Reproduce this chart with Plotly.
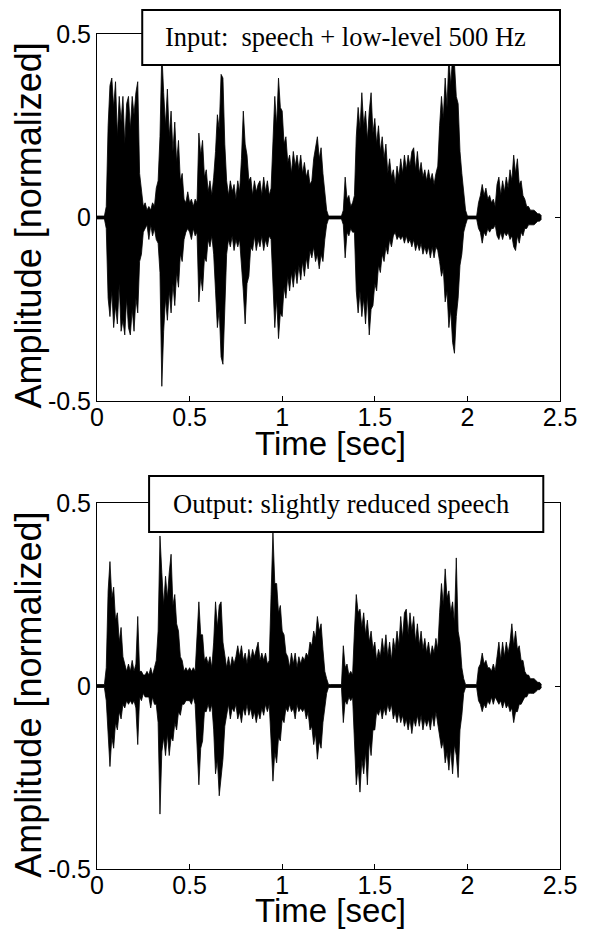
import plotly.graph_objects as go

# ---------------- data (waveform envelope, 10 ms steps) ----------------
sample_step = 0.01
n_samples = 241
time_sec = [round(i * sample_step, 2) for i in range(n_samples)]

input_upper = [
    0.004, 0.004, 0.004, 0.004, 0.004, 0.03, 0.25, 0.36, 0.38, 0.30,
    0.37, 0.22, 0.33, 0.26, 0.33, 0.20, 0.31, 0.33, 0.24, 0.33,
    0.28, 0.34, 0.37, 0.12, 0.08, 0.03, 0.04, 0.02, 0.03, 0.02,
    0.04, 0.03, 0.08, 0.10, 0.22, 0.45, 0.34, 0.25, 0.35, 0.22,
    0.29, 0.18, 0.26, 0.15, 0.21, 0.10, 0.12, 0.05, 0.04, 0.07,
    0.04, 0.05, 0.03, 0.05, 0.04, 0.23, 0.17, 0.21, 0.11, 0.13,
    0.07, 0.10, 0.06, 0.11, 0.18, 0.28, 0.24, 0.39, 0.38, 0.20,
    0.10, 0.06, 0.10, 0.07, 0.09, 0.05, 0.10, 0.07, 0.16, 0.29,
    0.20, 0.17, 0.10, 0.11, 0.06, 0.10, 0.07, 0.09, 0.10, 0.06,
    0.11, 0.07, 0.10, 0.06, 0.08, 0.20, 0.33, 0.25, 0.38, 0.30,
    0.29, 0.20, 0.22, 0.15, 0.17, 0.12, 0.18, 0.14, 0.17, 0.13,
    0.17, 0.12, 0.15, 0.11, 0.13, 0.09, 0.10, 0.16, 0.19, 0.22,
    0.16, 0.19, 0.12, 0.07, 0.02, 0.004, 0.004, 0.004, 0.004, 0.004,
    0.004, 0.004, 0.004, 0.02, 0.11, 0.05, 0.06, 0.03, 0.04, 0.06,
    0.22, 0.30, 0.24, 0.34, 0.25, 0.29, 0.21, 0.29, 0.34, 0.23,
    0.27, 0.20, 0.25, 0.18, 0.22, 0.16, 0.20, 0.12, 0.16, 0.11,
    0.13, 0.09, 0.14, 0.11, 0.16, 0.12, 0.17, 0.13, 0.17, 0.14,
    0.18, 0.19, 0.13, 0.18, 0.12, 0.15, 0.11, 0.13, 0.10, 0.13,
    0.10, 0.12, 0.09, 0.12, 0.14, 0.25, 0.33, 0.27, 0.38, 0.30,
    0.44, 0.36, 0.44, 0.42, 0.33, 0.31, 0.18, 0.12, 0.06, 0.02,
    0.004, 0.004, 0.004, 0.004, 0.004, 0.004, 0.04, 0.06, 0.09, 0.06,
    0.08, 0.05, 0.06, 0.04, 0.05, 0.03, 0.09, 0.11, 0.06, 0.10,
    0.07, 0.11, 0.08, 0.13, 0.10, 0.17, 0.12, 0.16, 0.09, 0.10,
    0.06, 0.05, 0.03, 0.03, 0.02, 0.02, 0.02, 0.015, 0.01, 0.01,
    0.004,
]

input_lower = [
    -0.004, -0.004, -0.004, -0.004, -0.004, -0.03, -0.22, -0.27, -0.20, -0.30,
    -0.24, -0.29, -0.18, -0.31, -0.28, -0.32, -0.22, -0.30, -0.32, -0.25,
    -0.31, -0.22, -0.26, -0.12, -0.10, -0.04, -0.03, -0.02, -0.06, -0.02,
    -0.05, -0.03, -0.06, -0.07, -0.15, -0.46, -0.31, -0.22, -0.28, -0.20,
    -0.26, -0.18, -0.24, -0.15, -0.19, -0.10, -0.12, -0.06, -0.04, -0.03,
    -0.04, -0.06, -0.03, -0.05, -0.04, -0.23, -0.16, -0.20, -0.11, -0.12,
    -0.06, -0.08, -0.05, -0.10, -0.20, -0.30, -0.25, -0.38, -0.40, -0.22,
    -0.10, -0.06, -0.08, -0.05, -0.09, -0.06, -0.08, -0.06, -0.12, -0.20,
    -0.29, -0.18, -0.16, -0.08, -0.09, -0.05, -0.09, -0.06, -0.08, -0.05,
    -0.09, -0.06, -0.08, -0.05, -0.06, -0.18, -0.30, -0.22, -0.33, -0.26,
    -0.27, -0.19, -0.22, -0.16, -0.20, -0.15, -0.19, -0.14, -0.18, -0.13,
    -0.17, -0.12, -0.16, -0.11, -0.14, -0.09, -0.11, -0.08, -0.12, -0.10,
    -0.14, -0.10, -0.12, -0.06, -0.02, -0.004, -0.004, -0.004, -0.004, -0.004,
    -0.004, -0.004, -0.004, -0.02, -0.11, -0.04, -0.05, -0.03, -0.04, -0.04,
    -0.20, -0.26, -0.20, -0.27, -0.22, -0.29, -0.21, -0.32, -0.25, -0.24,
    -0.18, -0.20, -0.13, -0.15, -0.10, -0.12, -0.08, -0.10, -0.06, -0.08,
    -0.05, -0.04, -0.06, -0.05, -0.06, -0.05, -0.07, -0.05, -0.07, -0.06,
    -0.08, -0.06, -0.09, -0.07, -0.09, -0.07, -0.10, -0.08, -0.10, -0.08,
    -0.11, -0.08, -0.11, -0.08, -0.09, -0.12, -0.16, -0.14, -0.23, -0.20,
    -0.30, -0.25, -0.34, -0.37, -0.27, -0.22, -0.13, -0.10, -0.04, -0.02,
    -0.004, -0.004, -0.004, -0.004, -0.004, -0.004, -0.03, -0.04, -0.07, -0.04,
    -0.05, -0.03, -0.04, -0.03, -0.03, -0.02, -0.05, -0.06, -0.04, -0.06,
    -0.04, -0.05, -0.04, -0.06, -0.05, -0.08, -0.09, -0.05, -0.07, -0.04,
    -0.05, -0.03, -0.03, -0.02, -0.02, -0.02, -0.02, -0.015, -0.01, -0.01,
    -0.004,
]

output_upper = [
    0.004, 0.004, 0.004, 0.004, 0.004, 0.05, 0.26, 0.34, 0.24, 0.27,
    0.18, 0.20, 0.12, 0.16, 0.08, 0.06, 0.04, 0.06, 0.04, 0.07,
    0.04, 0.06, 0.19, 0.04, 0.04, 0.03, 0.03, 0.04, 0.03, 0.05,
    0.03, 0.05, 0.07, 0.15, 0.41, 0.31, 0.22, 0.30, 0.24, 0.31,
    0.36, 0.22, 0.25, 0.17, 0.15, 0.08, 0.07, 0.04, 0.05, 0.04,
    0.05, 0.04, 0.05, 0.04, 0.15, 0.23, 0.14, 0.14, 0.07, 0.08,
    0.06, 0.08, 0.05, 0.12, 0.23, 0.16, 0.22, 0.23, 0.12, 0.09,
    0.05, 0.08, 0.05, 0.08, 0.06, 0.08, 0.11, 0.08, 0.11, 0.07,
    0.09, 0.06, 0.10, 0.07, 0.10, 0.08, 0.10, 0.12, 0.07, 0.09,
    0.07, 0.09, 0.06, 0.07, 0.25, 0.42, 0.28, 0.28, 0.20, 0.22,
    0.15, 0.14, 0.09, 0.08, 0.05, 0.09, 0.06, 0.09, 0.05, 0.08,
    0.06, 0.08, 0.07, 0.09, 0.08, 0.12, 0.11, 0.15, 0.13, 0.19,
    0.15, 0.17, 0.10, 0.04, 0.02, 0.004, 0.004, 0.004, 0.004, 0.004,
    0.004, 0.004, 0.004, 0.11, 0.05, 0.06, 0.03, 0.04, 0.03, 0.15,
    0.25, 0.20, 0.21, 0.16, 0.20, 0.14, 0.18, 0.12, 0.15, 0.10,
    0.12, 0.07, 0.10, 0.08, 0.13, 0.09, 0.14, 0.08, 0.12, 0.07,
    0.13, 0.10, 0.15, 0.11, 0.19, 0.13, 0.20, 0.21, 0.14, 0.20,
    0.15, 0.19, 0.12, 0.17, 0.11, 0.15, 0.10, 0.13, 0.09, 0.12,
    0.08, 0.11, 0.09, 0.13, 0.10, 0.20, 0.28, 0.22, 0.32, 0.24,
    0.26, 0.20, 0.23, 0.17, 0.35, 0.15, 0.12, 0.05, 0.02, 0.004,
    0.004, 0.004, 0.004, 0.004, 0.004, 0.004, 0.05, 0.06, 0.09, 0.06,
    0.07, 0.05, 0.05, 0.04, 0.06, 0.04, 0.08, 0.12, 0.07, 0.12,
    0.08, 0.12, 0.09, 0.12, 0.17, 0.11, 0.15, 0.10, 0.11, 0.07,
    0.07, 0.04, 0.03, 0.03, 0.02, 0.02, 0.02, 0.015, 0.01, 0.01,
    0.004,
]

output_lower = [
    -0.004, -0.004, -0.004, -0.004, -0.004, -0.04, -0.15, -0.22, -0.14, -0.17,
    -0.10, -0.12, -0.07, -0.09, -0.05, -0.06, -0.04, -0.05, -0.04, -0.05,
    -0.04, -0.06, -0.16, -0.03, -0.04, -0.02, -0.03, -0.03, -0.03, -0.06,
    -0.03, -0.05, -0.05, -0.10, -0.35, -0.18, -0.14, -0.19, -0.13, -0.19,
    -0.14, -0.15, -0.10, -0.12, -0.07, -0.08, -0.05, -0.05, -0.04, -0.04,
    -0.04, -0.05, -0.03, -0.05, -0.15, -0.27, -0.17, -0.15, -0.07, -0.07,
    -0.05, -0.07, -0.05, -0.12, -0.24, -0.20, -0.30, -0.25, -0.20, -0.11,
    -0.08, -0.05, -0.09, -0.06, -0.07, -0.05, -0.09, -0.07, -0.10, -0.06,
    -0.08, -0.05, -0.08, -0.06, -0.09, -0.07, -0.10, -0.07, -0.09, -0.06,
    -0.08, -0.05, -0.07, -0.05, -0.15, -0.26, -0.18, -0.21, -0.14, -0.15,
    -0.09, -0.10, -0.06, -0.07, -0.05, -0.07, -0.06, -0.09, -0.05, -0.07,
    -0.06, -0.07, -0.06, -0.09, -0.07, -0.12, -0.11, -0.16, -0.13, -0.20,
    -0.15, -0.17, -0.10, -0.05, -0.02, -0.004, -0.004, -0.004, -0.004, -0.004,
    -0.004, -0.004, -0.004, -0.10, -0.04, -0.05, -0.03, -0.04, -0.03, -0.15,
    -0.27, -0.22, -0.29, -0.20, -0.24, -0.18, -0.27, -0.15, -0.19, -0.12,
    -0.12, -0.07, -0.08, -0.06, -0.09, -0.06, -0.08, -0.05, -0.07, -0.05,
    -0.09, -0.07, -0.10, -0.07, -0.10, -0.08, -0.11, -0.09, -0.12, -0.09,
    -0.13, -0.09, -0.11, -0.08, -0.11, -0.08, -0.12, -0.09, -0.11, -0.09,
    -0.12, -0.08, -0.11, -0.07, -0.10, -0.14, -0.17, -0.15, -0.21, -0.18,
    -0.23, -0.17, -0.24, -0.16, -0.19, -0.25, -0.12, -0.08, -0.02, -0.004,
    -0.004, -0.004, -0.004, -0.004, -0.004, -0.004, -0.04, -0.05, -0.07, -0.05,
    -0.06, -0.04, -0.05, -0.03, -0.05, -0.03, -0.04, -0.05, -0.04, -0.06,
    -0.04, -0.06, -0.05, -0.07, -0.06, -0.10, -0.07, -0.07, -0.05, -0.05,
    -0.04, -0.03, -0.03, -0.02, -0.02, -0.02, -0.02, -0.015, -0.01, -0.01,
    -0.004,
]

x_tick_vals = [0, 0.5, 1, 1.5, 2, 2.5]
x_tick_text = ["0", "0.5", "1", "1.5", "2", "2.5"]
y_tick_vals = [-0.5, 0, 0.5]
y_tick_text = ["-0.5", "0", "0.5"]

input_label = "Input:\u00a0 speech + low-level 500 Hz"
output_label = "Output: slightly reduced speech"
x_title = "Time [sec]"
y_title = "Amplitude [normalized]"

for name, arr in [("input_upper", input_upper), ("input_lower", input_lower),
                  ("output_upper", output_upper), ("output_lower", output_lower)]:
    if len(arr) != n_samples:
        print("length mismatch", name, len(arr))

# ---------------- figure ----------------
fig = go.Figure()

def add_wave(upper, lower, xa, ya):
    fig.add_trace(go.Scatter(x=time_sec, y=upper, mode="lines",
                             line=dict(color="black", width=0.8),
                             xaxis=xa, yaxis=ya, showlegend=False, hoverinfo="skip"))
    fig.add_trace(go.Scatter(x=time_sec, y=lower, mode="lines",
                             line=dict(color="black", width=0.8),
                             fill="tonexty", fillcolor="black",
                             xaxis=xa, yaxis=ya, showlegend=False, hoverinfo="skip"))

add_wave(input_upper, input_lower, "x", "y")
add_wave(output_upper, output_lower, "x2", "y2")

tick_font = dict(family="Liberation Sans, Arial, sans-serif", size=25, color="black")
xtitle_font = dict(family="Liberation Sans, Arial, sans-serif", size=33, color="black")
ytitle_font = dict(family="Liberation Sans, Arial, sans-serif", size=36, color="black")
box_font = dict(family="Liberation Serif, Times New Roman, serif", size=26.5, color="black")

common_x = dict(range=[0, 2.5], tickvals=x_tick_vals, ticktext=x_tick_text,
                ticks="inside", ticklen=5, tickcolor="black", tickwidth=1,
                showline=True, linecolor="black", linewidth=1, mirror="ticks",
                showgrid=False, zeroline=False, tickfont=tick_font, domain=[0, 1],
                ticklabelstandoff=-6)
common_y = dict(range=[-0.5, 0.5], tickvals=y_tick_vals, ticktext=y_tick_text,
                ticks="inside", ticklen=5, tickcolor="black", tickwidth=1,
                showline=True, linecolor="black", linewidth=1, mirror="ticks",
                showgrid=False, zeroline=False, tickfont=tick_font)

top_domain = [0.5605, 1.0]
bottom_domain = [0.0, 0.4383]

# the page body adds an 8 px offset, so the figure is sized to fill the rest of the window
fig.update_layout(
    width=581, height=922,
    margin=dict(l=89, r=21, t=26, b=61),
    paper_bgcolor="white", plot_bgcolor="white",
    xaxis=dict(common_x, anchor="y"),
    yaxis=dict(common_y, anchor="x", domain=top_domain),
    xaxis2=dict(common_x, anchor="y2"),
    yaxis2=dict(common_y, anchor="x2", domain=bottom_domain),
)

# label boxes
fig.add_shape(type="rect", xref="paper", yref="paper",
              x0=0.0977, x1=1.0, y0=0.9629, y1=1.0287,
              line=dict(color="black", width=2), fillcolor="white", layer="above")
fig.add_shape(type="rect", xref="paper", yref="paper",
              x0=0.1125, x1=0.9639, y0=0.4036, y1=0.4707,
              line=dict(color="black", width=2), fillcolor="white", layer="above")

annotations = [
    dict(text=input_label, x=0.1423, y=0.9964, xanchor="left", yanchor="middle", font=box_font),
    dict(text=output_label, x=0.159, y=0.437, xanchor="left", yanchor="middle", font=box_font),
    dict(text=x_title, x=0.505, y=0.5095, xanchor="center", yanchor="middle", font=xtitle_font),
    dict(text=x_title, x=0.505, y=-0.0495, xanchor="center", yanchor="middle", font=xtitle_font),
    dict(text=y_title, x=-0.1486, y=0.771, xanchor="center", yanchor="middle",
         textangle=-90, font=ytitle_font),
    dict(text=y_title, x=-0.1486, y=0.209, xanchor="center", yanchor="middle",
         textangle=-90, font=ytitle_font),
]
for a in annotations:
    a.update(xref="paper", yref="paper", showarrow=False)
    fig.add_annotation(**a)

fig.write_html("out.html")
